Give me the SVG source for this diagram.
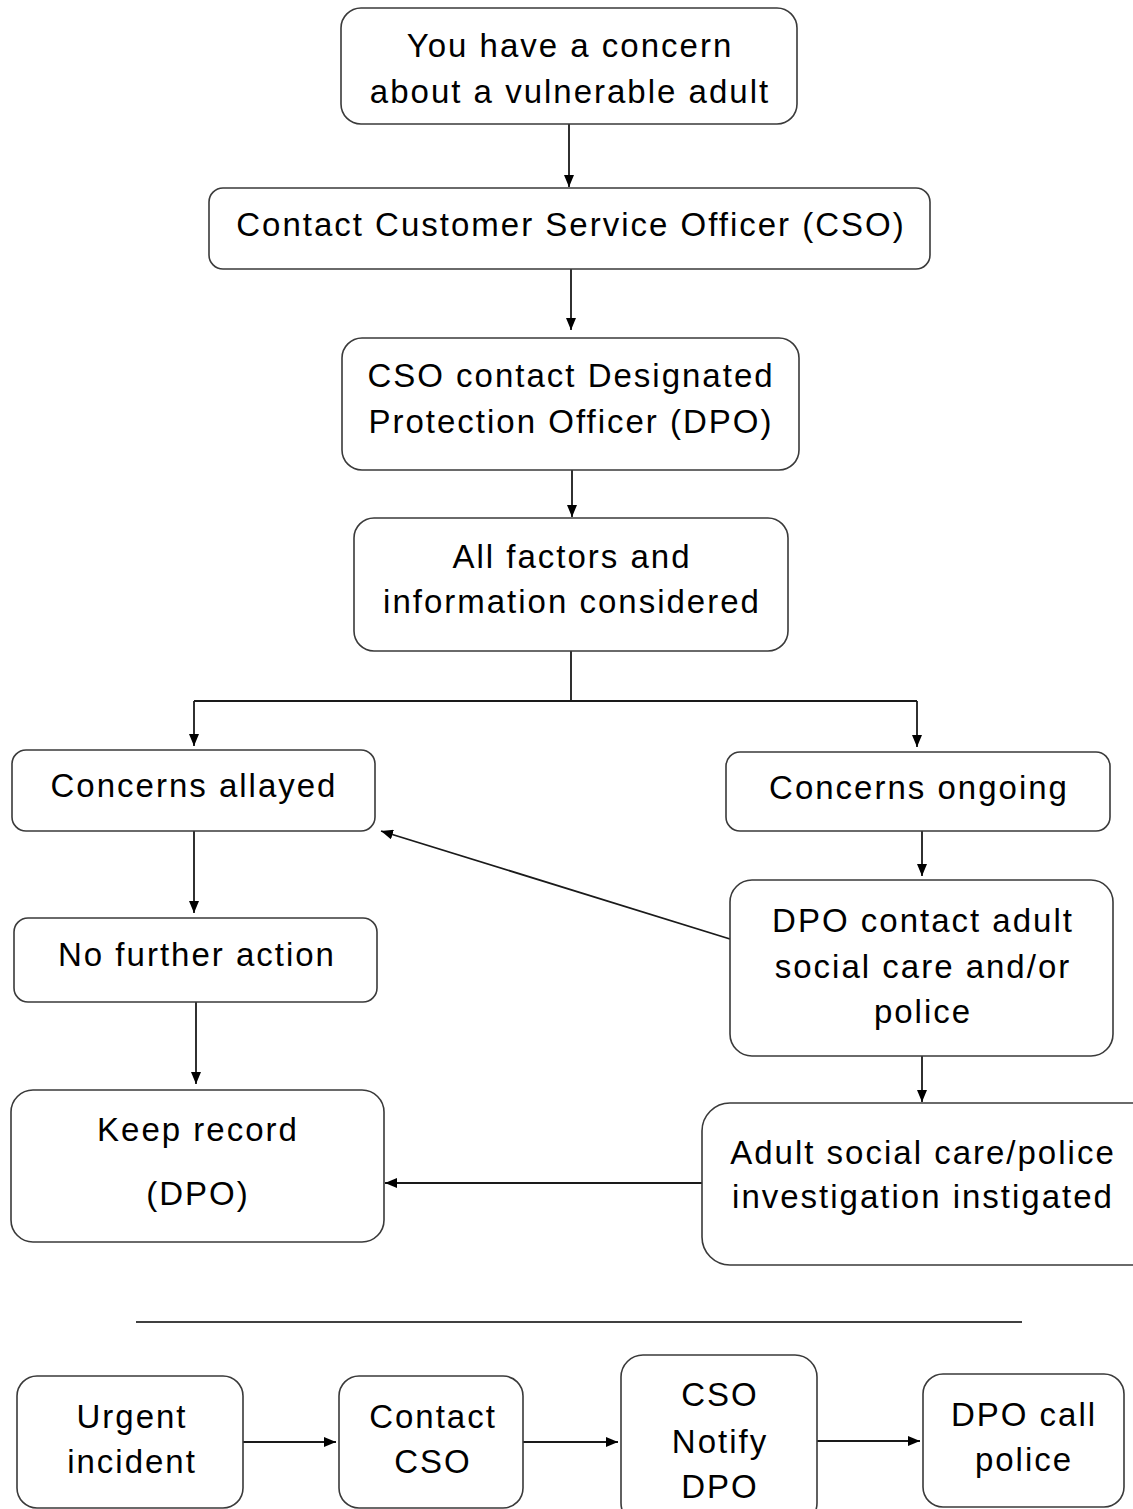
<svg xmlns="http://www.w3.org/2000/svg" width="1133" height="1509" viewBox="0 0 1133 1509">
<style>
.b{fill:#fff;stroke:#3a3a3a;stroke-width:1.6}
.t{font-family:"Liberation Sans",Arial,sans-serif;font-size:33px;letter-spacing:2px;fill:#000;text-anchor:middle}
.c{fill:none;stroke:#1a1a1a;stroke-width:1.8}
</style>
<defs>
<marker id="a" viewBox="0 0 12 10" refX="12" refY="5" markerWidth="12" markerHeight="10" markerUnits="userSpaceOnUse" orient="auto">
<path d="M0,0 L12,5 L0,10 z" fill="#000"/>
</marker>
</defs>
<rect width="1133" height="1509" fill="#fff"/>
<g id="connectors">
<path class="c" d="M569,124 V187" marker-end="url(#a)"/>
<path class="c" d="M571,269 V330" marker-end="url(#a)"/>
<path class="c" d="M572,470 V517" marker-end="url(#a)"/>
<path class="c" d="M571,651 V701 M194,701 H917"/>
<path class="c" d="M194,701 V746" marker-end="url(#a)"/>
<path class="c" d="M917,701 V747" marker-end="url(#a)"/>
<path class="c" d="M194,831 V913" marker-end="url(#a)"/>
<path class="c" d="M196,1002 V1084" marker-end="url(#a)"/>
<path class="c" d="M922,831 V876" marker-end="url(#a)"/>
<path class="c" d="M922,1056 V1102" marker-end="url(#a)"/>
<path class="c" d="M730,939 L381,831" marker-end="url(#a)"/>
<path class="c" d="M702,1183 H385" marker-end="url(#a)"/>
<path class="c" d="M243,1442 H336" marker-end="url(#a)"/>
<path class="c" d="M523,1442 H618" marker-end="url(#a)"/>
<path class="c" d="M817,1441 H920" marker-end="url(#a)"/>
</g>
<line x1="136" y1="1322" x2="1022" y2="1322" stroke="#000" stroke-width="1.6"/>
<g id="n1"><rect class="b" x="341" y="8" width="456" height="116" rx="20"/><text class="t" x="570" y="57">You have a concern</text><text class="t" x="570" y="103">about a vulnerable adult</text></g>
<g id="n2"><rect class="b" x="209" y="188" width="721" height="81" rx="14"/><text class="t" x="571" y="236">Contact Customer Service Officer (CSO)</text></g>
<g id="n3"><rect class="b" x="342" y="338" width="457" height="132" rx="20"/><text class="t" x="571" y="387">CSO contact Designated</text><text class="t" x="571" y="433">Protection Officer (DPO)</text></g>
<g id="n4"><rect class="b" x="354" y="518" width="434" height="133" rx="20"/><text class="t" x="572" y="568">All factors and</text><text class="t" x="572" y="613">information considered</text></g>
<g id="n5"><rect class="b" x="12" y="750" width="363" height="81" rx="14"/><text class="t" x="194" y="797">Concerns allayed</text></g>
<g id="n6"><rect class="b" x="726" y="752" width="384" height="79" rx="14"/><text class="t" x="919" y="799">Concerns ongoing</text></g>
<g id="n7"><rect class="b" x="14" y="918" width="363" height="84" rx="14"/><text class="t" x="197" y="966">No further action</text></g>
<g id="n8"><rect class="b" x="730" y="880" width="383" height="176" rx="22"/><text class="t" x="923" y="932">DPO contact adult</text><text class="t" x="923" y="978">social care and/or</text><text class="t" x="923" y="1023">police</text></g>
<g id="n9"><rect class="b" x="11" y="1090" width="373" height="152" rx="22"/><text class="t" x="198" y="1141">Keep record</text><text class="t" x="198" y="1205">(DPO)</text></g>
<g id="n10"><rect class="b" x="702" y="1103" width="460" height="162" rx="28"/><text class="t" x="923" y="1164">Adult social care/police</text><text class="t" x="923" y="1208">investigation instigated</text></g>
<g id="n11"><rect class="b" x="17" y="1376" width="226" height="132" rx="20"/><text class="t" x="132" y="1428">Urgent</text><text class="t" x="132" y="1473">incident</text></g>
<g id="n12"><rect class="b" x="339" y="1376" width="184" height="132" rx="20"/><text class="t" x="433" y="1428">Contact</text><text class="t" x="433" y="1473">CSO</text></g>
<g id="n13"><rect class="b" x="621" y="1355" width="196" height="170" rx="22"/><text class="t" x="720" y="1406">CSO</text><text class="t" x="720" y="1453">Notify</text><text class="t" x="720" y="1498">DPO</text></g>
<g id="n14"><rect class="b" x="923" y="1374" width="201" height="133" rx="20"/><text class="t" x="1024" y="1426">DPO call</text><text class="t" x="1024" y="1471">police</text></g>
</svg>
